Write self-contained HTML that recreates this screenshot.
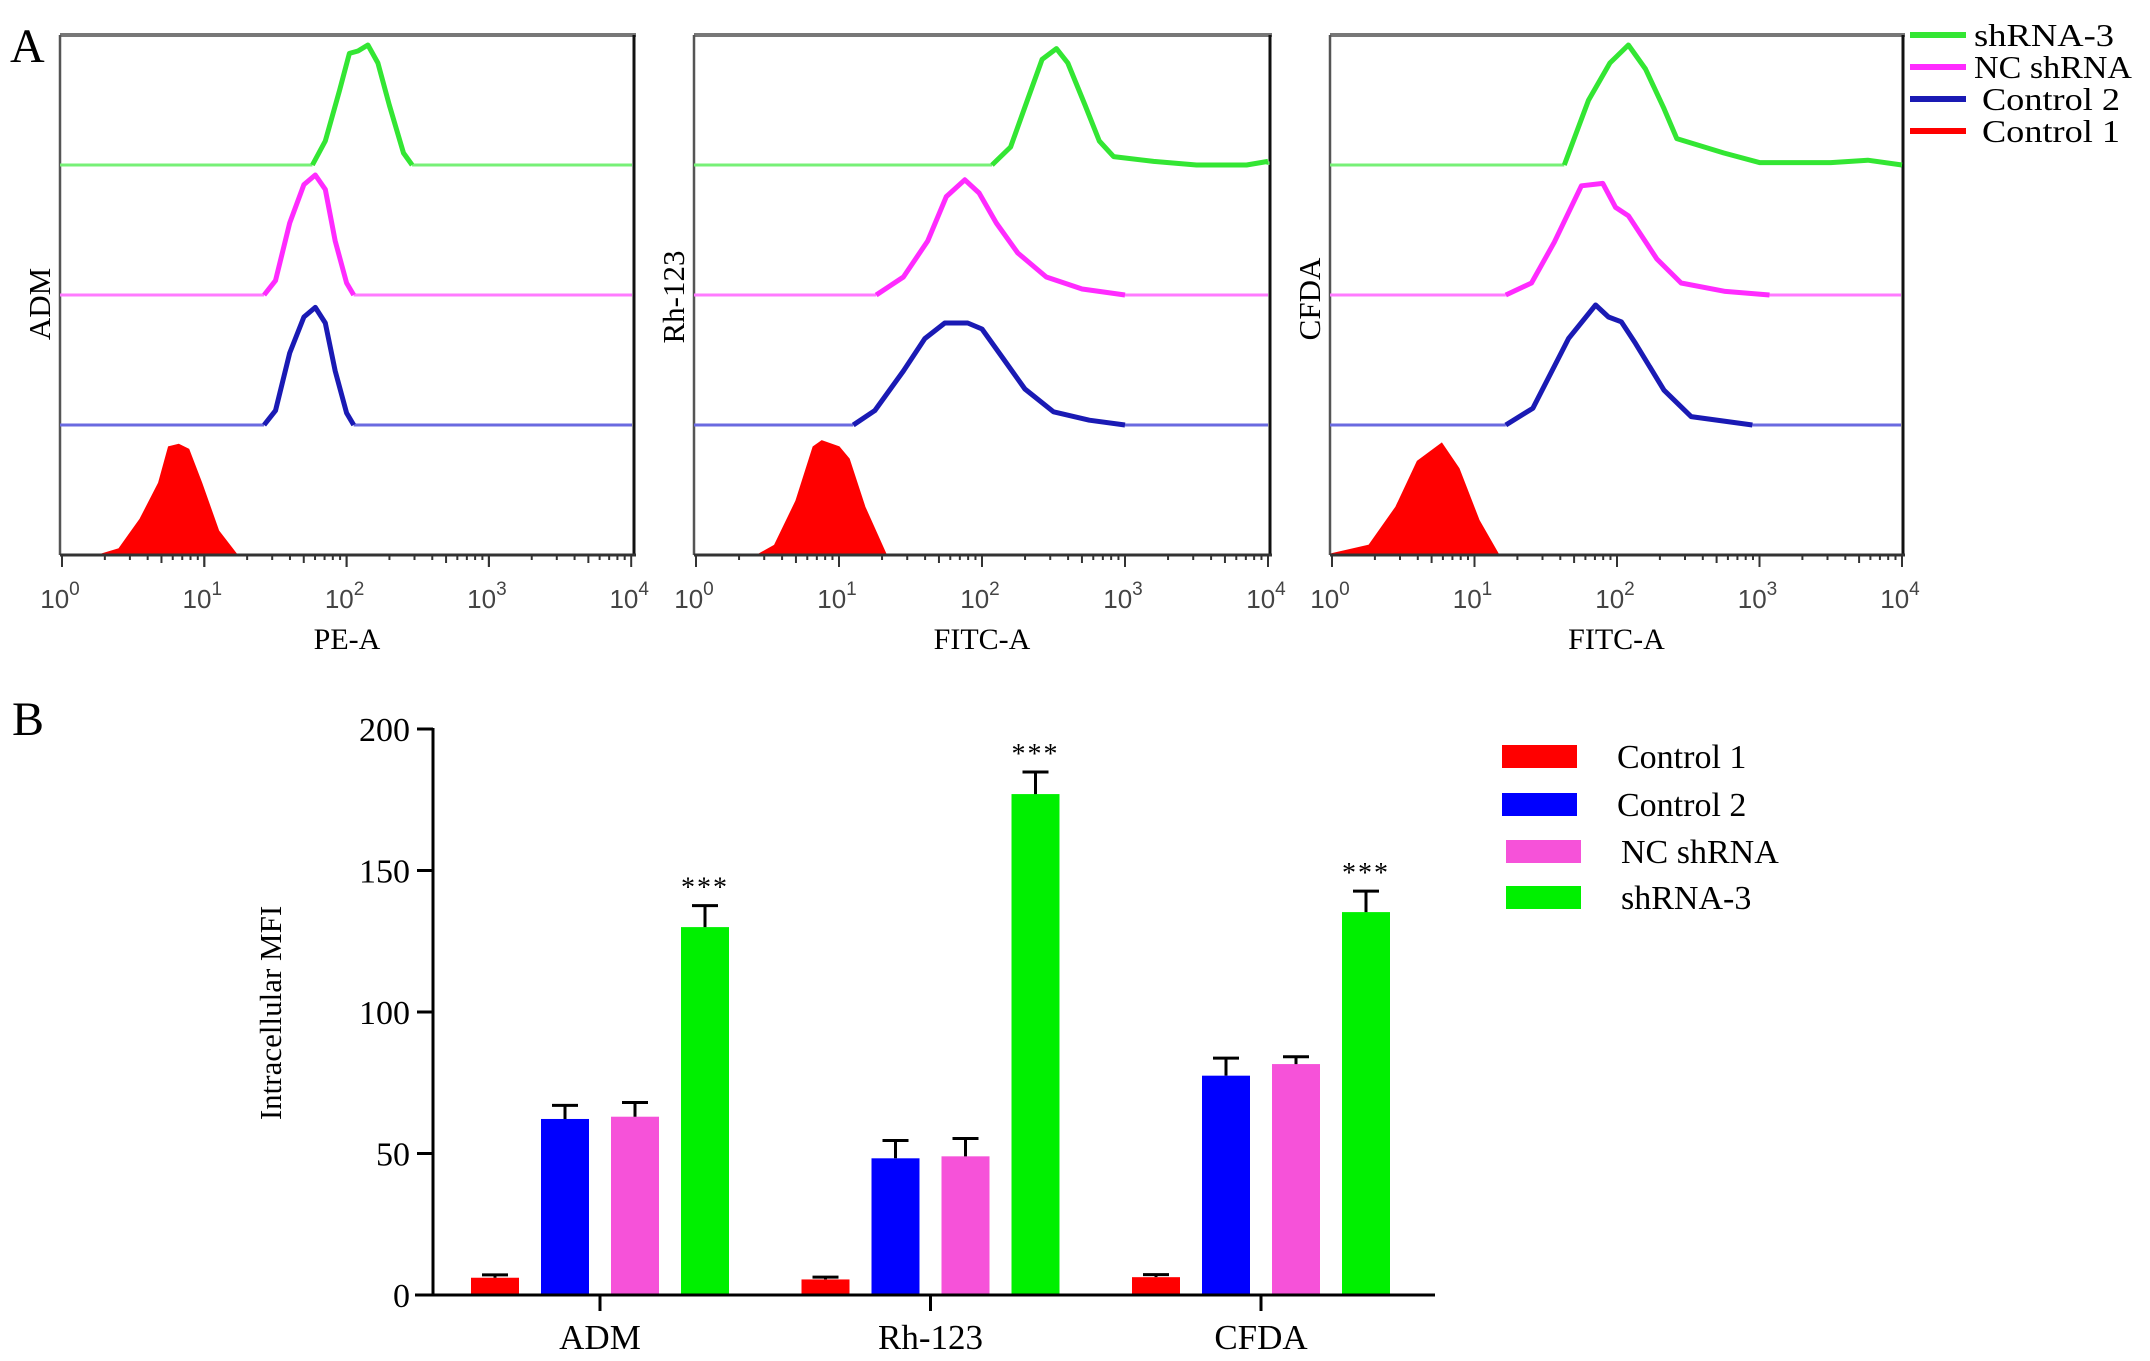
<!DOCTYPE html>
<html><head><meta charset="utf-8"><style>
html,body{margin:0;padding:0;background:#fff;width:2150px;height:1361px;overflow:hidden}
svg{display:block;font-family:"Liberation Serif",serif}
</style></head><body>
<svg id="fig" width="2150" height="1361" viewBox="0 0 2150 1361" xmlns="http://www.w3.org/2000/svg">
<text x="10" y="62" font-size="48">A</text>
<text x="12" y="735" font-size="48">B</text>
</svg>
<script>
// ---------- Panel A data: histogram points [log10 intensity, relative height] ----------
const histPanels = ["ADM", "Rh-123", "CFDA"];
const histXTitles = ["PE-A", "FITC-A", "FITC-A"];
const decadeLabels = ["0","1","2","3","4"];
const admControl1 = [[0.26,0],[0.4,0.05],[0.55,0.3],[0.68,0.6],[0.75,0.9],[0.82,0.92],[0.89,0.88],[0.98,0.6],[1.1,0.2],[1.23,0]];
const admControl2 = [[1.42,0],[1.5,0.12],[1.6,0.6],[1.7,0.9],[1.78,0.98],[1.85,0.85],[1.92,0.45],[2.0,0.1],[2.05,0]];
const admNC = [[1.42,0],[1.5,0.12],[1.6,0.6],[1.7,0.92],[1.78,1.0],[1.85,0.88],[1.92,0.45],[2.0,0.1],[2.05,0]];
const admSh3 = [[1.76,0],[1.85,0.2],[1.95,0.62],[2.02,0.93],[2.08,0.95],[2.15,1.0],[2.22,0.85],[2.3,0.5],[2.4,0.1],[2.46,0]];
const rhControl1 = [[0.43,0],[0.55,0.08],[0.7,0.45],[0.82,0.9],[0.88,0.95],[1.0,0.9],[1.07,0.8],[1.18,0.4],[1.33,0]];
const rhControl2 = [[1.1,0],[1.25,0.12],[1.45,0.45],[1.6,0.72],[1.74,0.85],[1.9,0.85],[2.0,0.8],[2.15,0.55],[2.3,0.3],[2.5,0.11],[2.75,0.04],[3.0,0]];
const rhNC = [[1.26,0],[1.45,0.15],[1.62,0.45],[1.75,0.82],[1.88,0.96],[1.98,0.85],[2.1,0.6],[2.25,0.35],[2.45,0.15],[2.7,0.05],[3.0,0]];
const rhSh3 = [[2.07,0],[2.2,0.15],[2.32,0.55],[2.42,0.88],[2.52,0.97],[2.6,0.85],[2.72,0.5],[2.82,0.2],[2.92,0.07],[3.2,0.03],[3.5,0],[3.85,0],[4.0,0.03]];
const cfControl1 = [[0.0,0.01],[0.26,0.08],[0.45,0.4],[0.6,0.78],[0.77,0.93],[0.89,0.72],[1.03,0.29],[1.17,0]];
const cfControl2 = [[1.22,0],[1.41,0.14],[1.66,0.72],[1.85,1.0],[1.94,0.9],[2.03,0.86],[2.13,0.68],[2.33,0.29],[2.52,0.07],[2.95,0]];
const cfNC = [[1.22,0],[1.4,0.1],[1.56,0.44],[1.75,0.91],[1.9,0.93],[1.99,0.73],[2.08,0.66],[2.28,0.3],[2.45,0.1],[2.76,0.03],[3.07,0]];
const cfSh3 = [[1.63,0],[1.8,0.54],[1.95,0.85],[2.08,1.0],[2.2,0.8],[2.33,0.47],[2.42,0.22],[2.75,0.1],[3.0,0.02],[3.5,0.02],[3.76,0.04],[4.0,0]];
const histData = [
  [admControl1, admControl2, admNC, admSh3],
  [rhControl1, rhControl2, rhNC, rhSh3],
  [cfControl1, cfControl2, cfNC, cfSh3]
];
const histSeries = ["Control 1","Control 2","NC shRNA","shRNA-3"];

// ---------- Panel B data ----------
const barCategories = ["ADM","Rh-123","CFDA"];
const barSeries = ["Control 1","Control 2","NC shRNA","shRNA-3"];
const control1Vals = [6.1, 5.5, 6.3];
const control2Vals = [62.2, 48.3, 77.5];
const ncVals = [63.0, 49.0, 81.6];
const sh3Vals = [130.0, 177.0, 135.3];
const control1Err = [1.0, 0.8, 0.9];
const control2Err = [4.8, 6.3, 6.2];
const ncErr = [5.0, 6.3, 2.6];
const sh3Err = [7.6, 7.8, 7.4];
const yTicks = [0, 50, 100, 150, 200];
const significance = ["", "", "", "***"];

const NS = "http://www.w3.org/2000/svg";
const svg = document.getElementById("fig");
function mk(tag, attrs, parent) {
  const e = document.createElementNS(NS, tag);
  for (const k in attrs) e.setAttribute(k, attrs[k]);
  (parent || svg).appendChild(e);
  return e;
}

// ---------- Panel A drawing ----------
const panelGeom = [
  {left:60, right:634, x0:62, dec:142.3},
  {left:694, right:1270, x0:696, dec:143},
  {left:1330, right:1903, x0:1332, dec:142.5}
];
const topY = 35, axisY = 555, trackH = 130, peakH = 120;
const strokeCols = ["#ff0000","#1a1ab4","#ff2bff","#33e633"];
const baseCols = ["#ff0000","#6a6ae0","#ff7bff","#77f077"];

histPanels.forEach((name, p) => {
  const g = panelGeom[p];
  const grp = mk("g", {});
  
  
  const xs = v => g.x0 + v * g.dec;
  const top = mk("line", {x1:g.left, y1:topY, x2:g.right+2, y2:topY, stroke:"#777", "stroke-width":4}, grp);
  
  
  const lf = mk("line", {x1:g.left, y1:topY, x2:g.left, y2:axisY, stroke:"#555", "stroke-width":2.5}, grp);
  
  
  const rt = mk("line", {x1:g.right, y1:topY, x2:g.right, y2:axisY, stroke:"#111", "stroke-width":3}, grp);
  
  
  histData[p].forEach((pts, s) => {
    const base = axisY - s * trackH;
    const sg = mk("g", {}, grp);
    
    
    if (s === 0) {
      let d = "M" + xs(pts[0][0]) + "," + base;
      pts.forEach(q => { d += " L" + xs(q[0]).toFixed(1) + "," + (base - q[1]*peakH).toFixed(1); });
      d += " L" + xs(pts[pts.length-1][0]) + "," + base + " Z";
      const a = mk("path", {d:d, fill:"#ff0000", stroke:"#ff0000", "stroke-width":1.5}, sg);
      
      
    } else {
      const bl = mk("line", {x1:g.left, y1:base, x2:xs(pts[0][0]), y2:base, stroke:baseCols[s], "stroke-width":3}, sg);
      
      
      const last = pts[pts.length-1];
      const br = mk("line", {x1:xs(last[0]), y1:base - last[1]*peakH, x2:g.right-2, y2:base, stroke:baseCols[s], "stroke-width":3}, sg);
      
      
      let d = "";
      pts.forEach((q, i) => { d += (i ? " L" : "M") + xs(q[0]).toFixed(1) + "," + (base - q[1]*peakH).toFixed(1); });
      const l = mk("path", {d:d, fill:"none", stroke:strokeCols[s], "stroke-width":5, "stroke-linejoin":"round"}, sg);
      
      
    }
  });
  const ax = mk("line", {x1:g.left, y1:axisY, x2:g.right+2, y2:axisY, stroke:"#333", "stroke-width":3}, grp);
  
  
  for (let d = 0; d < 4; d++) {
    for (let m = 1; m <= 10; m++) {
      const xv = xs(d + Math.log10(m));
      const len = (m === 1 || m === 10) ? 12 : (m === 5 ? 8 : 5);
      const t = mk("line", {x1:xv, y1:axisY, x2:xv, y2:axisY+len, stroke:"#333", "stroke-width":2}, grp);
      
      
    }
  }
  decadeLabels.forEach((lab, i) => {
    const t = mk("text", {x:xs(i)-2, y:608, "font-size":26, "text-anchor":"middle", fill:"#444", "font-family":"Liberation Sans, sans-serif", transform:"skewX(0)"}, grp);
    
    
    t.textContent = "10";
    const sp = mk("tspan", {dy:-13, "font-size":19}, t);
    sp.textContent = lab;
  });
  const xt = mk("text", {x:(g.left+g.right)/2, y:649, "font-size":30, "text-anchor":"middle"}, grp);
  
  
  xt.textContent = histXTitles[p];
  const ty = [304, 297, 299][p];
  const yl = mk("text", {x:0, y:0, "font-size":31, "text-anchor":"middle", transform:"translate(" + (g.left-10) + "," + ty + ") rotate(-90)"}, grp);
  
  
  yl.textContent = name;
});

// Panel A legend
const legA = mk("g", {});


[3,2,1,0].forEach((s, i) => {
  const y = 35 + i * 32;
  const e = mk("g", {}, legA);
  
  
  mk("line", {x1:1910, y1:y, x2:1966, y2:y, stroke:strokeCols[s], "stroke-width":6}, e);
  const t = mk("text", {x:i < 2 ? 1974 : 1982, y:y + 11, "font-size":32, textLength: i===1 ? 158 : (i===0 ? 140 : 138), lengthAdjust:"spacingAndGlyphs"}, e);
  t.textContent = histSeries[s];
});

// ---------- Panel B drawing ----------
const bx = {axisX:433, y0:1295, y200:729, xStart:415, xEnd:1435, groupX0:600, groupDX:330.5, barW:48, barDX:70};
const yScale = v => bx.y0 - (v / 200) * (bx.y0 - bx.y200);
const barCols = ["#ff0000","#0000ff","#f652d9","#00f000"];
const allVals = [control1Vals, control2Vals, ncVals, sh3Vals];
const allErr = [control1Err, control2Err, ncErr, sh3Err];
const bg = mk("g", {});



barCategories.forEach((cat, c) => {
  const cx = bx.groupX0 + c * bx.groupDX;
  allVals.forEach((vals, s) => {
    const x = cx + (s - 1.5) * bx.barDX - bx.barW / 2;
    const y = yScale(vals[c]);
    const r = mk("rect", {x:x, y:y, width:bx.barW, height:bx.y0 - y, fill:barCols[s]}, bg);
    
    
    const ey = yScale(vals[c] + allErr[s][c]);
    const ecx = x + bx.barW / 2;
    const eb = mk("path", {d:"M" + ecx + "," + y + " L" + ecx + "," + ey + " M" + (ecx-13) + "," + ey + " L" + (ecx+13) + "," + ey, stroke:"#000", "stroke-width":3, fill:"none"}, bg);
    
    
    if (significance[s]) {
      const st = mk("text", {x:ecx, y:ey - 9, "font-size":28, "text-anchor":"middle", "letter-spacing":"2"}, bg);
      
      
      st.textContent = significance[s];
    }
  });
  const tk = mk("line", {x1:cx, y1:bx.y0, x2:cx, y2:bx.y0 + 16, stroke:"#000", "stroke-width":3}, bg);
  
  
  const tl = mk("text", {x:cx, y:1349, "font-size":35, "text-anchor":"middle"}, bg);
  
  
  tl.textContent = cat;
});
const xa = mk("line", {x1:bx.xStart, y1:bx.y0, x2:bx.xEnd, y2:bx.y0, stroke:"#000", "stroke-width":3}, bg);


const ya = mk("line", {x1:bx.axisX, y1:bx.y200 - 1, x2:bx.axisX, y2:bx.y0 + 1, stroke:"#000", "stroke-width":3}, bg);


yTicks.forEach(v => {
  const y = yScale(v);
  const t = mk("line", {x1:bx.axisX - 16, y1:y, x2:bx.axisX, y2:y, stroke:"#000", "stroke-width":3}, bg);
  
  
  const l = mk("text", {x:410, y:y + 12, "font-size":34, "text-anchor":"end"}, bg);
  
  
  l.textContent = v;
});
const yt = mk("text", {x:0, y:0, "font-size":31, "text-anchor":"middle", transform:"translate(281,1013) rotate(-90)"}, bg);


yt.textContent = "Intracellular MFI";

// Panel B legend
const legB = mk("g", {});


const legY = [745, 793, 840, 886];
barSeries.forEach((s, i) => {
  const e = mk("g", {}, legB);
  
  
  const off = i >= 2 ? 4 : 0;
  mk("rect", {x:1502 + off, y:legY[i], width:75, height:23, fill:barCols[i]}, e);
  const t = mk("text", {x:1617 + off, y:legY[i] + 23, "font-size":34}, e);
  t.textContent = s;
});
</script>
</body></html>
